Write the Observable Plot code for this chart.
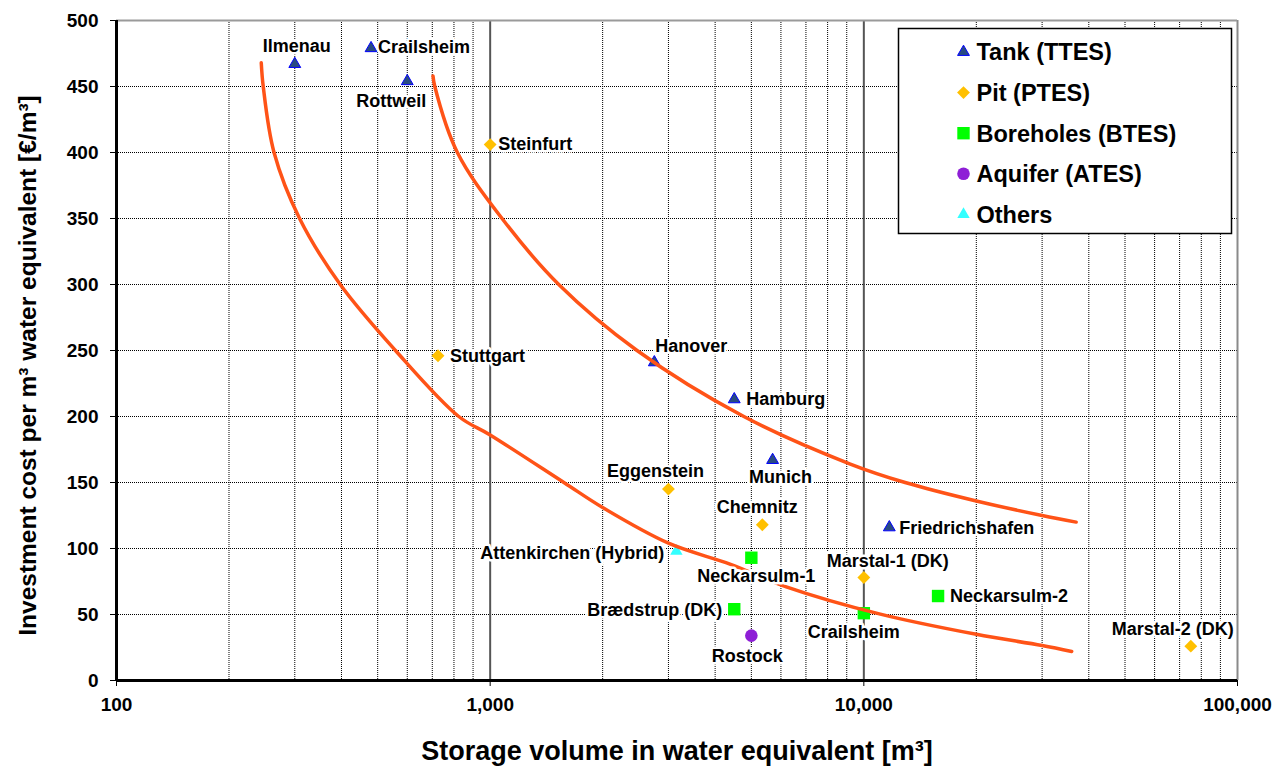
<!DOCTYPE html>
<html><head><meta charset="utf-8">
<script src="https://cdn.jsdelivr.net/npm/d3@7"></script>
<script src="https://cdn.jsdelivr.net/npm/@observablehq/plot@0.6"></script>
<style>
html,body{margin:0;padding:0;background:#fff;}
#wrap{position:relative;width:1285px;height:766px;}
#wrap svg.legend{position:absolute;left:0;top:0;pointer-events:none;}
</style></head><body><div id="wrap"></div>
<script>
// ---------- data ----------
const tankNames = ["Ilmenau", "Crailsheim", "Rottweil", "Hanover", "Hamburg", "Munich", "Friedrichshafen"];
const tankVolume = [300, 480, 600, 2750, 4500, 5700, 11700];
const tankCost = [467, 479, 454, 241, 213, 167, 116];

const pitNames = ["Steinfurt", "Stuttgart", "Eggenstein", "Chemnitz", "Marstal-1 (DK)", "Marstal-2 (DK)"];
const pitVolume = [1000, 725, 3000, 5350, 10000, 75000];
const pitCost = [406, 246, 145, 118, 78, 26];

const boreholeNames = ["Neckarsulm-1", "Brædstrup (DK)", "Crailsheim", "Neckarsulm-2"];
const boreholeVolume = [5000, 4500, 10000, 15800];
const boreholeCost = [93, 54, 51, 64];

const aquiferNames = ["Rostock"];
const aquiferVolume = [5000];
const aquiferCost = [34];

const otherNames = ["Attenkirchen (Hybrid)"];
const otherVolume = [3150];
const otherCost = [98];

const upperCurveVolume = [703, 711, 817, 1076, 1526, 2472, 4774, 9200, 12900, 20000, 30000, 37000];
const upperCurveCost = [458, 450, 400, 350, 300, 250, 200, 164, 150, 136, 125, 120];

const lowerCurveVolume = [244, 247, 264, 309, 397, 558, 824, 1000, 1575, 2000, 3000, 4400, 6200, 11000, 20000, 30000, 36000];
const lowerCurveCost = [468, 450, 400, 350, 300, 250, 200, 186, 150, 131, 104, 88, 71, 50.5, 35, 26.5, 22];

const categories = ["Tank (TTES)", "Pit (PTES)", "Boreholes (BTES)", "Aquifer (ATES)", "Others"];
const xMajorTicks = [100, 1000, 10000, 100000];
const xMinorTicks = [200, 300, 400, 500, 600, 700, 800, 900, 2000, 3000, 4000, 5000, 6000, 7000, 8000, 9000, 20000, 30000, 40000, 50000, 60000, 70000, 80000, 90000];
const yTicks = [0, 50, 100, 150, 200, 250, 300, 350, 400, 450, 500];
const yGridTicks = [50, 100, 150, 200, 250, 300, 350, 400, 450];
const xTitle = "Storage volume in water equivalent [m³]";
const yTitle = "Investment cost per m³ water equivalent [€/m³]";

// ---------- styles ----------
const FONT = '"Liberation Sans", Arial, Helvetica, sans-serif';
const catStyle = {
  "Tank (TTES)": {symbol: "triangle", r: 4.4, fill: "#284A82", stroke: "#0000FF", strokeWidth: 1},
  "Pit (PTES)": {symbol: "diamond2", r: 5.8, fill: "#FFC000", stroke: "none", strokeWidth: 0},
  "Boreholes (BTES)": {symbol: "square", r: 7.0, fill: "#00FF00", stroke: "none", strokeWidth: 0},
  "Aquifer (ATES)": {symbol: "circle", r: 6.3, fill: "#8E1ED6", stroke: "none", strokeWidth: 0},
  "Others": {symbol: "triangle", r: 4.6, fill: "#33FFFF", stroke: "none", strokeWidth: 0}
};
// label placement: anchor, dx, dy (pixels)
const placement = {
  "Tank (TTES):Ilmenau": ["middle", 2, -18],
  "Tank (TTES):Crailsheim": ["start", 7, -1],
  "Tank (TTES):Rottweil": ["middle", -16, 20],
  "Tank (TTES):Hanover": ["start", 1, -16],
  "Tank (TTES):Hamburg": ["start", 12, 0],
  "Tank (TTES):Munich": ["middle", 8, 17],
  "Tank (TTES):Friedrichshafen": ["start", 10, 1],
  "Pit (PTES):Steinfurt": ["start", 8, 0],
  "Pit (PTES):Stuttgart": ["start", 12, 0],
  "Pit (PTES):Eggenstein": ["middle", -13, -18],
  "Pit (PTES):Chemnitz": ["middle", -5, -18],
  "Pit (PTES):Marstal-1 (DK)": ["middle", 24, -16],
  "Pit (PTES):Marstal-2 (DK)": ["middle", -18, -17],
  "Boreholes (BTES):Neckarsulm-1": ["middle", 5, 18],
  "Boreholes (BTES):Brædstrup (DK)": ["end", -12, 1],
  "Boreholes (BTES):Crailsheim": ["middle", -10, 19],
  "Boreholes (BTES):Neckarsulm-2": ["start", 12, 0],
  "Aquifer (ATES):Rostock": ["middle", -4, 21],
  "Others:Attenkirchen (Hybrid)": ["end", -12, 2]
};

// ---------- build tables ----------
const points = [];
function addSeries(cat, names, vols, costs) {
  names.forEach((n, i) => points.push({category: cat, name: n, volume: vols[i], cost: costs[i], key: cat + ":" + n}));
}
addSeries(categories[0], tankNames, tankVolume, tankCost);
addSeries(categories[1], pitNames, pitVolume, pitCost);
addSeries(categories[2], boreholeNames, boreholeVolume, boreholeCost);
addSeries(categories[3], aquiferNames, aquiferVolume, aquiferCost);
addSeries(categories[4], otherNames, otherVolume, otherCost);

const upperCurve = upperCurveVolume.map((v, i) => ({volume: v, cost: upperCurveCost[i]}));
const lowerCurve = lowerCurveVolume.map((v, i) => ({volume: v, cost: lowerCurveCost[i]}));

const dotMarks = categories.map(cat => {
  const s = catStyle[cat];
  return Plot.dot(points.filter(p => p.category === cat), {
    x: "volume", y: "cost", symbol: () => s.symbol, r: s.r,
    fill: s.fill, stroke: s.stroke, strokeWidth: s.strokeWidth
  });
});

const labelMarks = points.map(p => {
  const [anchor, dx, dy] = placement[p.key];
  return Plot.text([p], {
    x: "volume", y: "cost", text: "name", textAnchor: anchor, dx, dy,
    fontSize: 18, fontWeight: "bold", fill: "black",
    stroke: "white", strokeWidth: 5, strokeLinejoin: "round", paintOrder: "stroke"
  });
});

const curveStyle = {x: "volume", y: "cost", curve: "catmull-rom", stroke: "#FF5317", strokeWidth: 3.5};

const chart = Plot.plot({
  width: 1285, height: 766,
  marginLeft: 116, marginRight: 48, marginTop: 20, marginBottom: 86,
  style: {fontFamily: FONT, fontWeight: "bold", fontSize: "19px", color: "black", background: "white"},
  x: {type: "log", domain: [100, 100000], ticks: xMajorTicks, tickFormat: d3.format(","), tickSize: 6, tickPadding: 11, label: null},
  y: {domain: [0, 500], ticks: yTicks, tickSize: 6, tickPadding: 12, label: null},
  marks: [
    Plot.ruleY(yGridTicks, {stroke: "#000", strokeWidth: 1, strokeDasharray: "1,1"}),
    Plot.ruleX(xMinorTicks, {stroke: "#000", strokeWidth: 1, strokeDasharray: "1,1"}),
    Plot.ruleX([xMajorTicks[1], xMajorTicks[2]], {stroke: "#555", strokeWidth: 2}),
    Plot.ruleX([xMajorTicks[3]], {stroke: "#8a8a8a", strokeWidth: 2}),
    Plot.ruleY([yTicks[yTicks.length - 1]], {stroke: "#9a9a9a", strokeWidth: 2}),
    ...dotMarks,
    Plot.line(upperCurve, curveStyle),
    Plot.line(lowerCurve, curveStyle),
    ...labelMarks,
    Plot.ruleX([xMajorTicks[0]], {stroke: "#000", strokeWidth: 3}),
    Plot.ruleY([yTicks[0]], {stroke: "#000", strokeWidth: 3}),
    Plot.text([yTitle], {text: d => d, frameAnchor: "left", textAnchor: "middle", lineAnchor: "middle", dx: -88, dy: 15, rotate: -90, fontSize: 24.5, fontWeight: "bold"}),
    Plot.text([xTitle], {text: d => d, frameAnchor: "bottom", textAnchor: "middle", lineAnchor: "middle", dy: 71, fontSize: 27, fontWeight: "bold"})
  ]
});

const wrap = document.getElementById("wrap");
wrap.append(chart);

// ---------- legend overlay ----------
const leg = d3.select(wrap).append("svg").attr("class", "legend")
  .attr("width", 1285).attr("height", 766)
  .style("font-family", FONT);
const lg = leg.append("g").attr("transform", "translate(898.5,28.5)");
lg.append("rect").attr("width", 333).attr("height", 205).attr("fill", "white").attr("stroke", "black").attr("stroke-width", 1.5);
const symMap = {triangle: d3.symbolTriangle, diamond2: d3.symbolDiamond2, square: d3.symbolSquare, circle: d3.symbolCircle};
categories.forEach((cat, i) => {
  const s = catStyle[cat];
  const cy = 23.5 + i * 40.6;
  lg.append("path")
    .attr("d", d3.symbol(symMap[s.symbol], s.r * s.r * Math.PI)())
    .attr("transform", `translate(65,${cy})`)
    .attr("fill", s.fill).attr("stroke", s.stroke).attr("stroke-width", s.strokeWidth);
  lg.append("text").attr("x", 78).attr("y", cy).attr("dy", "0.36em")
    .attr("font-size", 23.5).attr("font-weight", "bold").text(cat);
});
</script></body></html>
